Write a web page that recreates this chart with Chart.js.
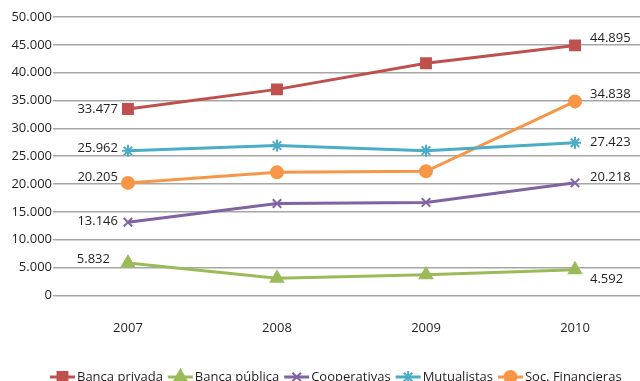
<!DOCTYPE html>
<html>
<head>
<meta charset="utf-8">
<script src="https://cdn.jsdelivr.net/npm/chart.js@4.4.1/dist/chart.umd.min.js"></script>
<style>
  html, body { margin: 0; padding: 0; background: #fff; overflow: hidden; }
  #wrap { position: relative; width: 640px; height: 381px; }
</style>
</head>
<body>
<div id="wrap"><canvas id="chart"></canvas></div>
<script>
// data
const years = [2007, 2008, 2009, 2010];
const seriesNames = ['Banca privada', 'Banca pública', 'Cooperativas', 'Mutualistas', 'Soc. Financieras'];
const bancaPrivada = [33477, 37000, 41700, 44895];
const bancaPublica = [5832, 3100, 3700, 4592];
const cooperativas = [13146, 16500, 16700, 20218];
const mutualistas = [25962, 26900, 26000, 27423];
const socFinancieras = [20205, 22100, 22300, 34838];
const yTicks = [0, 5000, 10000, 15000, 20000, 25000, 30000, 35000, 40000, 45000, 50000];

const allValues = [bancaPrivada, bancaPublica, cooperativas, mutualistas, socFinancieras];
const colors = ['#c0504d', '#9bbb59', '#8064a2', '#4bacc6', '#f79646'];
const markers = ['rect', 'triangle', 'crossRot', 'star', 'circle'];
const radii = [7, 7, 6, 6, 6];
// label nudges (first point: left of it, last point: right of it)
const firstNudge = [[-10, 0], [-18, -4], [-10, -1], [-10, -3], [-10, -6]];
const lastNudge = [[15, -7], [15, 9], [15, -6], [15, 0], [15, -7]];

const FONT = '"Open Sans", "Noto Sans", sans-serif';
const TXT = '#231f20';

function fmt(v) {
    return String(v).replace(/\B(?=(\d{3})+(?!\d))/g, '.');
}

const endLabels = {
    id: 'endLabels',
    afterDatasetsDraw(chart) {
        const ctx = chart.ctx;
        ctx.save();
        ctx.font = '13px ' + FONT;
        ctx.fillStyle = TXT;
        ctx.textBaseline = 'middle';
        chart.data.datasets.forEach((ds, i) => {
            const pts = chart.getDatasetMeta(i).data;
            const vals = allValues[i];
            const p0 = pts[0], pN = pts[pts.length - 1];
            ctx.textAlign = 'right';
            ctx.fillText(fmt(vals[0]), p0.x + firstNudge[i][0], p0.y + firstNudge[i][1]);
            ctx.textAlign = 'left';
            ctx.fillText(fmt(vals[vals.length - 1]), pN.x + lastNudge[i][0], pN.y + lastNudge[i][1]);
        });
        ctx.restore();
    }
};

// legend drawn by hand: line + marker, then the name
const lineLegend = {
    id: 'lineLegend',
    afterDraw(chart) {
        const ctx = chart.ctx;
        ctx.save();
        ctx.font = '13px ' + FONT;
        ctx.textBaseline = 'middle';
        ctx.textAlign = 'left';
        let x = 50;
        const y = 377;
        chart.data.datasets.forEach((ds, i) => {
            ctx.strokeStyle = colors[i];
            ctx.fillStyle = colors[i];
            ctx.lineWidth = 3;
            ctx.beginPath(); ctx.moveTo(x, y); ctx.lineTo(x + 25, y); ctx.stroke();
            ctx.lineWidth = 2;
            Chart.helpers.drawPoint(ctx, {pointStyle: markers[i], radius: radii[i], borderWidth: 2, rotation: 0}, x + 12.5, y);
            ctx.fillStyle = TXT;
            ctx.fillText(ds.label, x + 27, y);
            x += 27 + ctx.measureText(ds.label).width + 5;
        });
        ctx.restore();
    }
};

const datasets = seriesNames.map((name, i) => ({
    label: name,
    data: years.map((y, j) => ({x: y, y: allValues[i][j]})),
    borderColor: colors[i],
    backgroundColor: colors[i],
    borderWidth: 3,
    pointStyle: markers[i],
    pointRadius: radii[i],
    pointHoverRadius: radii[i],
    pointBorderWidth: 2,
    tension: 0
}));

new Chart(document.getElementById('chart'), {
    type: 'line',
    data: {datasets: datasets},
    plugins: [endLabels, lineLegend],
    options: {
        responsive: true,
        maintainAspectRatio: false,
        animation: false,
        layout: {autoPadding: false, padding: {top: 17, right: 0, left: 0, bottom: 28}},
        plugins: {
            tooltip: {enabled: false},
            legend: {display: false}
        },
        scales: {
            x: {
                type: 'linear',
                min: 2006.497,
                max: 2010.436,
                afterBuildTicks: (s) => { s.ticks = years.map(v => ({value: v})); },
                afterFit: (s) => { s.paddingLeft = 0; s.paddingRight = 0; },
                grid: {display: false},
                border: {display: false},
                ticks: {
                    padding: 17,
                    color: TXT,
                    font: {family: FONT, size: 13},
                    callback: (v) => String(v)
                }
            },
            y: {
                min: 0,
                max: 50000,
                afterBuildTicks: (s) => { s.ticks = yTicks.map(v => ({value: v})); },
                afterFit: (s) => { s.width = 53; },
                border: {display: false},
                grid: {color: '#a6a6a6', lineWidth: 1.5, drawTicks: false},
                ticks: {
                    padding: 1,
                    color: TXT,
                    font: {family: FONT, size: 13},
                    callback: (v) => fmt(v)
                }
            }
        }
    }
});
</script>
</body>
</html>
